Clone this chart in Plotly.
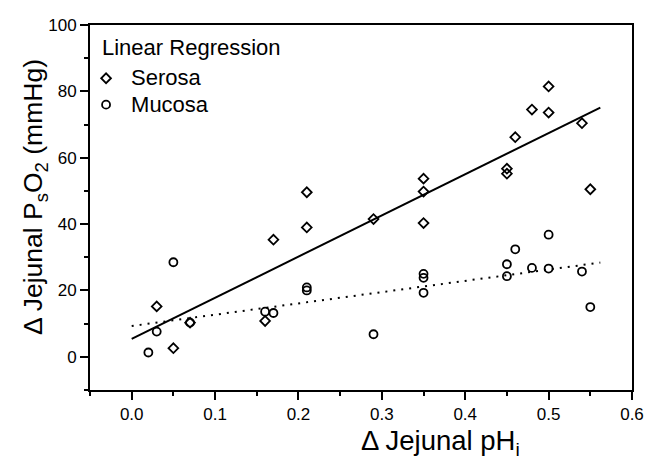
import plotly.graph_objects as go

# ---- data ----
x_tickvals = [0.0, 0.1, 0.2, 0.3, 0.4, 0.5, 0.6]
x_ticktext = ["0.0", "0.1", "0.2", "0.3", "0.4", "0.5", "0.6"]
y_tickvals = [0, 20, 40, 60, 80, 100]

serosa_x = [0.03, 0.05, 0.07, 0.16, 0.17, 0.21, 0.21, 0.29, 0.35, 0.35, 0.35,
            0.45, 0.45, 0.46, 0.48, 0.50, 0.50, 0.54, 0.55]
serosa_y = [15.2, 2.6, 10.3, 10.8, 35.3, 49.6, 39.0, 41.5, 53.7, 49.8, 40.3,
            56.7, 55.2, 66.2, 74.5, 81.5, 73.6, 70.4, 50.5]

mucosa_x = [0.02, 0.03, 0.05, 0.07, 0.16, 0.17, 0.21, 0.21, 0.29, 0.35, 0.35,
            0.35, 0.45, 0.45, 0.46, 0.48, 0.50, 0.50, 0.54, 0.55]
mucosa_y = [1.3, 7.6, 28.5, 10.3, 13.6, 13.2, 20.9, 20.0, 6.8, 25.0, 23.8,
            19.3, 27.9, 24.3, 32.4, 26.8, 36.8, 26.6, 25.7, 15.0]

fit_x = [0.0, 0.562]
serosa_fit = [5.4, 75.1]
mucosa_fit = [9.3, 28.4]

FONT = "Liberation Sans, Arial, Helvetica, sans-serif"

fig = go.Figure()

fig.add_trace(go.Scatter(x=fit_x, y=serosa_fit, mode="lines",
                         line=dict(color="black", width=2), showlegend=False,
                         hoverinfo="skip"))
fig.add_trace(go.Scatter(x=fit_x, y=mucosa_fit, mode="lines",
                         line=dict(color="black", width=2, dash="2px,6px"),
                         showlegend=False, hoverinfo="skip"))

fig.add_trace(go.Scatter(x=serosa_x, y=serosa_y, mode="markers",
                         name='<span style="font-size:22px">Serosa</span>',
                         marker=dict(symbol="diamond-open", size=7.5, color="black",
                                     line=dict(width=1.8, color="black"))))
fig.add_trace(go.Scatter(x=mucosa_x, y=mucosa_y, mode="markers",
                         name='<span style="font-size:22px">Mucosa</span>',
                         marker=dict(symbol="circle-open", size=8, color="black",
                                     line=dict(width=1.8, color="black"))))

axis_common = dict(
    showgrid=False, zeroline=False, showline=True, linecolor="black",
    linewidth=2, mirror=True, ticks="outside", ticklen=8, tickwidth=2,
    tickcolor="black", tickfont=dict(family=FONT, size=17, color="black"),
)

fig.update_xaxes(
    range=[-0.05, 0.6], tickvals=x_tickvals, ticktext=x_ticktext,
    minor=dict(dtick=0.05, ticks="outside", ticklen=4, tickwidth=1.5,
               tickcolor="black", showgrid=False),
    **axis_common)
fig.update_yaxes(
    range=[-10, 100], tickvals=y_tickvals,
    minor=dict(dtick=10, ticks="outside", ticklen=4, tickwidth=1.5,
               tickcolor="black", showgrid=False),
    **axis_common)

# axis titles
fig.add_annotation(text="Δ Jejunal pH<sub>i</sub>", xref="paper", yref="paper",
                   x=0.646, y=-0.144, xanchor="center", yanchor="middle",
                   showarrow=False, font=dict(family=FONT, size=27.5, color="black"))
fig.add_annotation(text="Δ Jejunal P<sub>s</sub>O<sub>2</sub> (mmHg)",
                   xref="paper", yref="paper", x=-0.1015, y=0.529,
                   xanchor="center", yanchor="middle", textangle=-90,
                   showarrow=False, font=dict(family=FONT, size=26.5, color="black"))

# legend title
fig.add_annotation(text="Linear Regression", xref="paper", yref="paper",
                   x=0.0185, y=0.9385, xanchor="left", yanchor="middle",
                   showarrow=False,
                   font=dict(family=FONT, size=22, color="black"))

fig.update_layout(
    width=652, height=454,
    margin=dict(l=82, r=28, t=8, b=72),
    paper_bgcolor="white", plot_bgcolor="white",
    font=dict(family=FONT, color="black"),
    legend=dict(x=-0.0165, y=0.904, xanchor="left", yanchor="top",
                bgcolor="rgba(0,0,0,0)", borderwidth=0,
                font=dict(family=FONT, size=18, color="black"),
                tracegroupgap=0, itemwidth=40),
)

fig.write_html("out.html")
